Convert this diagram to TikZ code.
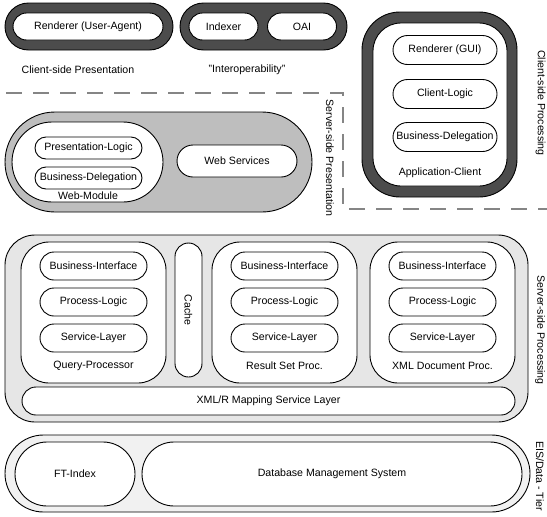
\documentclass[tikz,border=0pt]{standalone}
\usepackage{fontspec}
\setmainfont{Liberation Sans}
\definecolor{darkband}{HTML}{4C4C4C}
\definecolor{webgrey}{HTML}{BEBEBE}
\definecolor{srvgrey}{HTML}{E6E6E6}
\definecolor{eisgrey}{HTML}{F1F1F1}
\definecolor{dashgrey}{HTML}{858585}
\newcommand{\lblfont}{\fontsize{10.6}{12}\selectfont}
\tikzset{
  base/.style={draw=black, line width=0.9pt, inner sep=0pt, font=\lblfont, fill=white},
  rr/.style n args={3}{minimum width=#1pt, minimum height=#2pt, rounded corners=#3pt},
  lab/.style={font=\lblfont, inner sep=0pt},
  vlab/.style={font=\lblfont, inner sep=0pt, rotate=-90},
  tierline/.style={draw=dashgrey, line width=1.5pt, dash pattern=on 16pt off 11pt}
}
\begin{document}
\begin{tikzpicture}[x=1pt, y=-1pt]
\useasboundingbox (0,0) rectangle (547,517);

% ---------- Client-side presentation ----------
\node[base, rr={168}{47}{23.5}, fill=darkband] (uaOuter) at (89,26.5) {};
\node[base, rr={150}{27}{13.5}] (ua) at (88,26.5) {Renderer (User-Agent)};
\node[lab] (cspLabel) at (78,70) {Client-side Presentation};

\node[base, rr={167}{47}{23.5}, fill=darkband] (ioOuter) at (263.5,26.5) {};
\node[base, rr={69}{27}{13.5}] (indexer) at (223.5,26.5) {Indexer};
\node[base, rr={69}{27}{13.5}] (oai) at (302,26.5) {OAI};
\node[lab] (ioLabel) at (247,70) {"Interoperability"};

% ---------- Application client ----------
\node[base, rr={155}{185}{38}, fill=darkband] (acOuter) at (439.5,104.5) {};
\node[base, rr={134}{163}{28}] (ac) at (440,104.5) {};
\node[base, rr={104}{29}{14.5}] (gui) at (445,50) {Renderer (GUI)};
\node[base, rr={104}{29}{14.5}] (clogic) at (445,94) {Client-Logic};
\node[base, rr={104}{29}{14.5}] (cbd) at (445,137) {Business-Delegation};
\node[lab] (acLabel) at (440,173) {Application-Client};
\node[vlab] (cspr) at (540.5,103) {Client-side Processing};

% ---------- tier boundary ----------
\coordinate (d1) at (6,93);
\coordinate (d2) at (343,93);
\coordinate (d3) at (343,209);
\coordinate (d4) at (547,209);
\draw[tierline] (d1) -- (d2) -- (d3) -- (d4);

% ---------- Server-side presentation ----------
\node[base, rr={307}{100}{50}, fill=webgrey] (web) at (158.5,162) {};
\node[base, rr={151}{80}{40}] (webmod) at (87.5,162) {};
\node[base, rr={107}{22}{11}] (plogic) at (88.5,148) {Presentation-Logic};
\node[base, rr={107}{22}{11}] (wbd) at (88.5,178) {Business-Delegation};
\node[lab] (wmLabel) at (88,196) {Web-Module};
\node[base, rr={120}{32}{16}] (ws) at (237,161) {Web Services};
\node[vlab] (sspLabel) at (330,158) {Server-side Presentation};

% ---------- Server-side processing ----------
\node[base, rr={523}{187}{30}, fill=srvgrey] (srv) at (266.5,328.5) {};

\node[base, rr={145}{141}{28}] (qp) at (93.5,312.5) {};
\node[base, rr={107}{28}{14}] (qpbi) at (93.5,266) {Business-Interface};
\node[base, rr={107}{28}{14}] (qppl) at (93.5,302) {Process-Logic};
\node[base, rr={107}{28}{14}] (qpsl) at (93.5,338) {Service-Layer};
\node[lab] (qpLabel) at (93.5,366) {Query-Processor};

\node[base, rr={27}{134}{13.5}] (cache) at (188.5,310) {};
\node[vlab] (cacheLabel) at (cache.center) {Cache};

\node[base, rr={145}{141}{28}] (rs) at (284.5,312.5) {};
\node[base, rr={107}{28}{14}] (rsbi) at (284.5,266) {Business-Interface};
\node[base, rr={107}{28}{14}] (rspl) at (284.5,302) {Process-Logic};
\node[base, rr={107}{28}{14}] (rssl) at (284.5,338) {Service-Layer};
\node[lab] (rsLabel) at (284.5,366) {Result Set Proc.};

\node[base, rr={145}{141}{28}] (xd) at (442.5,312.5) {};
\node[base, rr={107}{28}{14}] (xdbi) at (442.5,266) {Business-Interface};
\node[base, rr={107}{28}{14}] (xdpl) at (442.5,302) {Process-Logic};
\node[base, rr={107}{28}{14}] (xdsl) at (442.5,338) {Service-Layer};
\node[lab] (xdLabel) at (442.5,366) {XML Document Proc.};

\node[base, rr={493}{28}{14}] (xmlr) at (268.5,401) {XML/R Mapping Service Layer};
\node[vlab] (ssprLabel) at (540,330) {Server-side Processing};

% ---------- EIS / Data tier ----------
\node[base, rr={525}{77}{38.5}, fill=eisgrey] (eis) at (267.5,473.5) {};
\node[base, rr={120}{64}{32}] (ft) at (75,474) {FT-Index};
\node[base, rr={380}{64}{32}] (dbms) at (332,474) {Database Management System};
\node[vlab] (eisLabel) at (540,476) {EIS/Data - Tier};
\end{tikzpicture}
\end{document}
